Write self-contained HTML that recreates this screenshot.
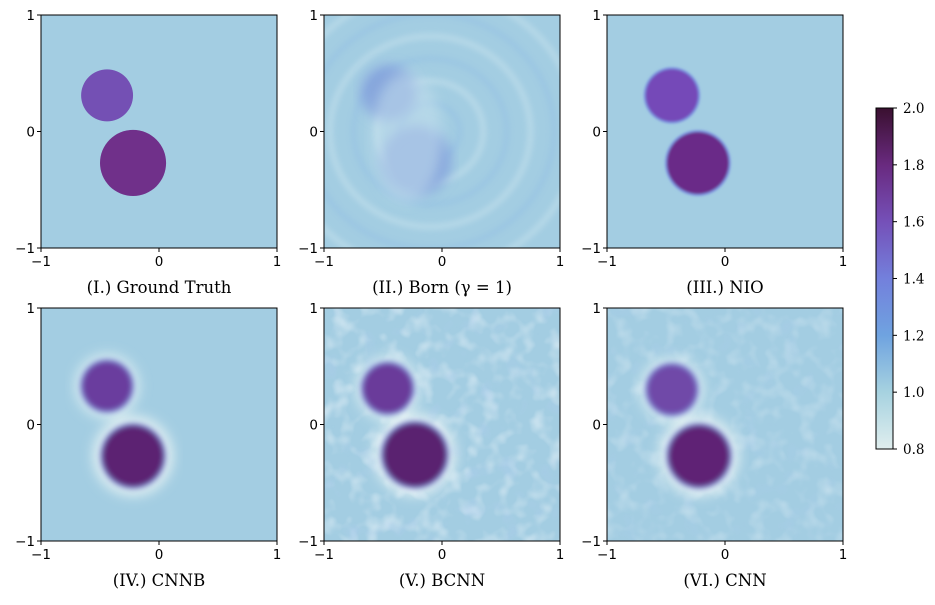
<!DOCTYPE html>
<html><head><meta charset="utf-8"><style>
body{margin:0;background:#fff;width:935px;height:600px;overflow:hidden}
svg text{font-family:"DejaVu Sans","Liberation Sans",sans-serif}
svg text.t,svg text.s{font-family:"DejaVu Serif","Liberation Serif",serif}
.t{font-size:16.5px}
</style></head><body>
<svg id="fig" width="935" height="600" xmlns="http://www.w3.org/2000/svg">
<defs>
<filter id="b1"><feGaussianBlur stdDeviation="1.2"/></filter>
<filter id="b3"><feGaussianBlur stdDeviation="3"/></filter>
<filter id="b6"><feGaussianBlur stdDeviation="6"/></filter>
<filter id="noise" x="0" y="0" width="100%" height="100%"><feTurbulence type="fractalNoise" baseFrequency="0.06" numOctaves="2" seed="3"/><feColorMatrix values="0 0 0 0 0.95  0 0 0 0 0.98  0 0 0 0 1  0 0 0 1.6 -0.75"/></filter>
<filter id="noise2" x="0" y="0" width="100%" height="100%"><feTurbulence type="fractalNoise" baseFrequency="0.05" numOctaves="2" seed="7"/><feColorMatrix values="0 0 0 0 0.45  0 0 0 0 0.6  0 0 0 0 0.9  0 0 0 1.4 -0.8"/></filter>
<linearGradient id="cb" x1="0" y1="1" x2="0" y2="0">
<stop offset="0" stop-color="#e0eeee"/><stop offset="0.167" stop-color="#a6d2e0"/>
<stop offset="0.333" stop-color="#6fa3e0"/><stop offset="0.5" stop-color="#7380dc"/>
<stop offset="0.667" stop-color="#7550b8"/><stop offset="0.833" stop-color="#692a7f"/>
<stop offset="1" stop-color="#3a1030"/></linearGradient>
</defs>
</svg>
<script>
const ticks=[-1,0,1];
const cbTicks=[0.8,1.0,1.2,1.4,1.6,1.8,2.0];
const titles=["(I.) Ground Truth","(II.) Born (\u03b3 = 1)","(III.) NIO","(IV.) CNNB","(V.) BCNN","(VI.) CNN"];
const smallX=[-0.44,-0.45,-0.45,-0.44,-0.46,-0.45];
const smallY=[0.31,0.33,0.31,0.33,0.31,0.30];
const smallR=[0.22,0.22,0.23,0.22,0.22,0.22];
const bigX=[-0.22,-0.22,-0.23,-0.22,-0.23,-0.22];
const bigY=[-0.27,-0.25,-0.27,-0.27,-0.26,-0.27];
const bigR=[0.28,0.28,0.27,0.27,0.28,0.27];
const smallCol=["#7450b4","#86a6dc","#7448b8","#6a3c9e","#6a3a9a","#7048a8"];
const bigCol=["#70308a","#86a6dc","#6a2c88","#5c2272","#5a2070","#5e2474"];
const blur=["","b6","b1","b3","b3","b3"];
const px=[41,324,607],py=[15,308],W=236,H=233;
const NS="http://www.w3.org/2000/svg";
const svg=document.getElementById('fig');
function mk(tag,at,parent){const e=document.createElementNS(NS,tag);for(const k in at)e.setAttribute(k,at[k]);(parent||svg).appendChild(e);return e;}
for(let i=0;i<6;i++){
 const x0=px[i%3],y0=py[Math.floor(i/3)];
 const sx=v=>x0+(v+1)/2*W, sy=v=>y0+(1-v)/2*H, sr=r=>r/2*W;
 const g=mk('g',{});
 
 
 const cid='clip'+i;
 const cp=mk('clipPath',{id:cid},svg.querySelector('defs'));mk('rect',{x:x0,y:y0,width:W,height:H},cp);
 const img=mk('g',{'clip-path':'url(#'+cid+')'},g);
 mk('rect',{x:x0,y:y0,width:W,height:H,fill:'#a3cde2'},img);
 if(i===1){
  const cx=sx(-0.1),cy=sy(0.0);
  [0.25,0.45,0.65,0.85,1.05,1.25].forEach((r,k)=>{mk('ellipse',{cx:cx,cy:cy,rx:sr(r),ry:sr(r*0.95),fill:'none',stroke:k%2?'#cfe7ef':'#93bfe4','stroke-width':6,opacity:0.45,filter:'url(#b3)'},img);});
 }
 if(i>=3){
  const h=mk('g',{filter:'url(#b6)'},img);
  mk('circle',{cx:sx(bigX[i]),cy:sy(bigY[i]),r:sr(bigR[i])+8,fill:'#e2f0f2'},h);
  mk('circle',{cx:sx(smallX[i]),cy:sy(smallY[i]),r:sr(smallR[i])+6,fill:'#d8ecf0'},h);
 }
 if(i===4||i===5){mk('rect',{x:x0,y:y0,width:W,height:H,filter:'url(#noise)',opacity:i===4?0.7:0.45},img);mk('rect',{x:x0,y:y0,width:W,height:H,filter:'url(#noise2)',opacity:i===4?0.6:0.35},img);}
 const cg=mk('g',blur[i]?{filter:'url(#'+blur[i]+')'}:{},img);
 if(i>=1){
  mk('circle',{cx:sx(smallX[i]),cy:sy(smallY[i]),r:sr(smallR[i])+1,fill:'#7a90e0'},cg);
  mk('circle',{cx:sx(bigX[i]),cy:sy(bigY[i]),r:sr(bigR[i])+1,fill:'#7a90e0'},cg);
 }
 const c1=mk('circle',{cx:sx(smallX[i]),cy:sy(smallY[i]),r:sr(smallR[i])-(i>=1?1:0),fill:smallCol[i]},cg);
 
 
 const c2=mk('circle',{cx:sx(bigX[i]),cy:sy(bigY[i]),r:sr(bigR[i])-(i>=1?1:0),fill:bigCol[i]},cg);
 
 
 if(i===1){mk('ellipse',{cx:sx(-0.3),cy:sy(-0.05),rx:sr(0.3),ry:sr(0.55),fill:'#c8e2ee',opacity:0.5,filter:'url(#b6)'},img);}
 mk('rect',{x:x0,y:y0,width:W,height:H,fill:'none',stroke:'#000','stroke-width':1},g);
 ticks.forEach(t=>{
  mk('line',{x1:sx(t),x2:sx(t),y1:y0+H,y2:y0+H+4,stroke:'#000'},g);
  const tx=mk('text',{x:sx(t),y:y0+H+18,'text-anchor':'middle','font-size':13.5},g);tx.textContent=t<0?'\u22121':String(t);
  mk('line',{x1:x0-4,x2:x0,y1:sy(t),y2:sy(t),stroke:'#000'},g);
  const ty=mk('text',{x:x0-6,y:sy(t)+5,'text-anchor':'end','font-size':13.5},g);ty.textContent=t<0?'\u22121':String(t);
 });
 const tt=mk('text',{x:x0+W/2,y:y0+H+45,'text-anchor':'middle',class:'t'},g);
 tt.textContent=titles[i];
 
 
}
const cbx=876,cby=108,cbw=17,cbh=341;
const cbg=mk('g',{});


mk('rect',{x:cbx,y:cby,width:cbw,height:cbh,fill:'url(#cb)',stroke:'#000','stroke-width':1},cbg);
cbTicks.forEach(t=>{const y=cby+cbh-(t-0.8)/1.2*cbh;
 mk('line',{x1:cbx+cbw,x2:cbx+cbw+4,y1:y,y2:y,stroke:'#000'},cbg);
 const tx=mk('text',{x:cbx+cbw+10,y:y+5,'font-size':13.5,class:'s'},cbg);tx.textContent=t.toFixed(1);});
</script>
</body></html>
